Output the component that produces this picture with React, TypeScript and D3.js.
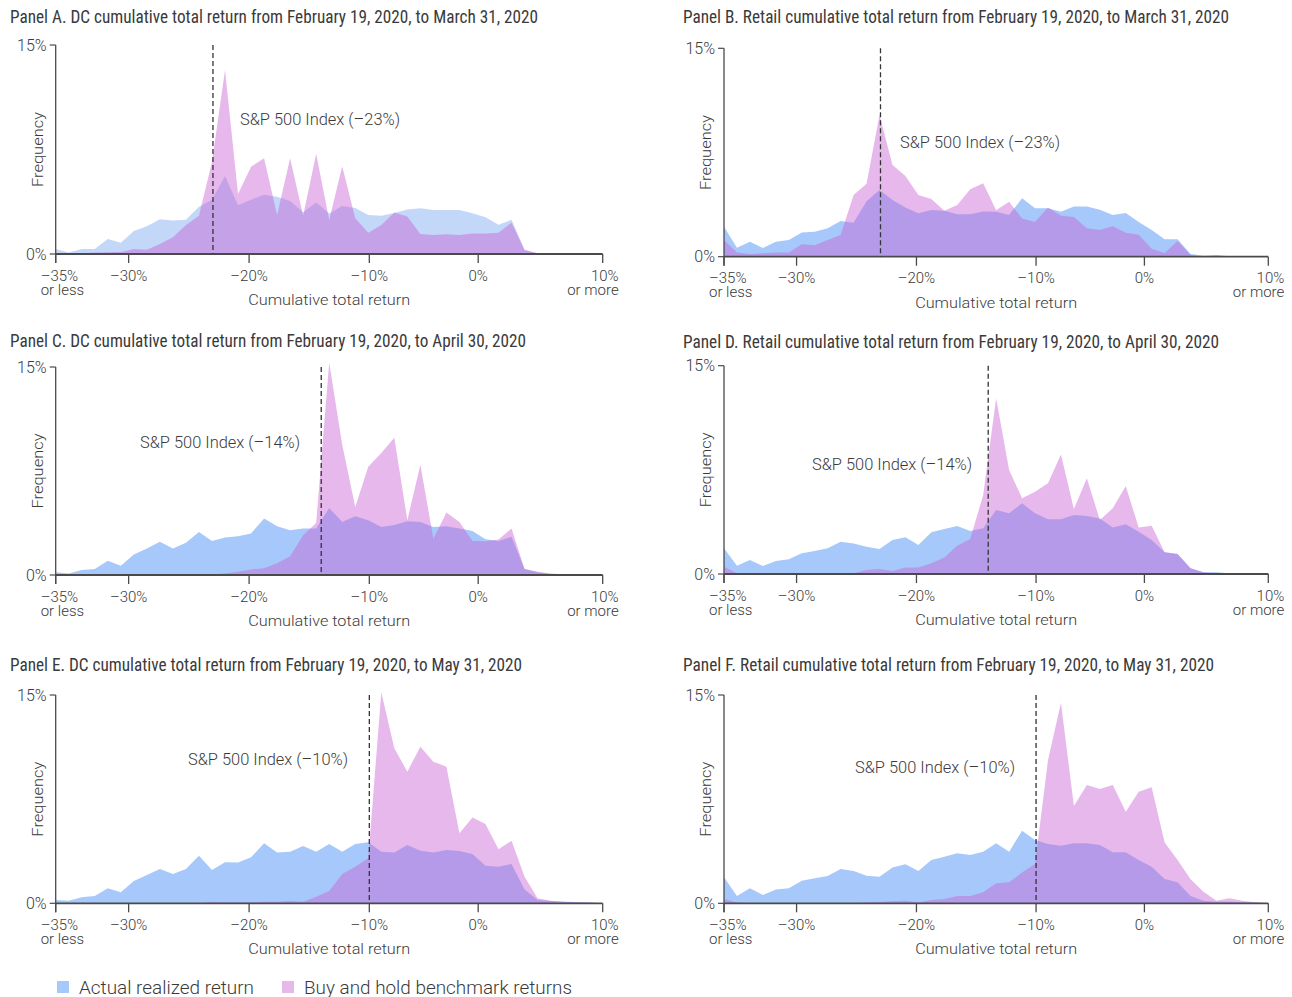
import React from 'react';
import * as d3 from 'd3';

// ---------- data ----------
// 43 histogram bins from "-35% or less" to "10% or more"; values are frequency in %
const blueA = [0.35,0.1,0.35,0.35,1.08,0.8,1.65,2.0,2.5,2.4,2.45,3.4,3.9,5.6,3.5,3.9,4.25,4.1,3.8,3.0,3.7,2.9,3.45,3.3,2.8,2.75,2.95,3.2,3.28,3.16,3.16,3.16,2.92,2.63,2.1,2.45,0.3,0.05,0,0,0,0,0];
const pinkA = [0.02,0.02,0.05,0.1,0.12,0.15,0.35,0.3,0.72,1.2,2.08,2.75,6.6,13.2,4.3,6.27,6.87,2.8,6.87,2.75,7.2,2.44,6.3,2.56,1.53,2.08,2.97,2.7,1.44,1.36,1.41,1.36,1.48,1.48,1.53,2.25,0.29,0.05,0,0,0,0,0];
const blueB = [2.16,0.65,1.08,0.62,1.08,1.2,1.75,1.8,2.04,2.57,2.45,4.0,4.8,4.08,3.55,3.12,3.36,3.3,3.06,3.05,3.25,3.24,3.0,4.2,3.48,3.48,3.24,3.62,3.62,3.38,3.0,3.15,2.5,1.93,1.26,1.26,0.19,0.07,0.12,0.03,0,0,0];
const pinkB = [1.2,0.31,0.19,0.24,0.31,0.31,0.89,0.82,1.2,1.56,4.44,5.25,10.2,6.6,5.8,4.44,4.15,3.3,3.72,4.85,5.28,3.35,3.96,2.75,2.5,3.55,2.95,2.85,2.04,1.92,2.2,1.73,1.58,0.57,0.26,1.13,0.12,0,0,0,0,0,0];
const blueC = [0.19,0.1,0.36,0.43,1.03,0.67,1.48,1.91,2.39,1.91,2.32,3.11,2.46,2.7,2.8,3.0,4.07,3.52,3.23,3.35,3.35,4.83,3.83,4.23,3.95,3.47,3.6,3.88,3.83,3.47,3.52,3.35,3.18,2.58,2.46,2.75,0.43,0.19,0.07,0.02,0,0,0];
const pinkC = [0,0,0,0,0,0,0,0,0,0,0,0,0.03,0.1,0.24,0.4,0.48,0.84,1.36,2.87,3.75,15.3,9.4,4.9,7.8,8.8,9.9,3.95,7.95,2.6,4.5,3.83,2.46,2.44,2.56,3.35,0.43,0.24,0.1,0.05,0,0,0];
const blueD = [1.85,0.6,1.0,0.58,0.94,1.06,1.49,1.66,1.85,2.33,2.2,1.97,1.8,2.45,2.64,2.09,3.0,3.24,3.46,3.1,3.29,4.6,4.37,5.09,4.37,3.94,3.94,4.25,4.18,4.0,3.34,3.58,3.05,2.45,1.56,1.44,0.41,0.12,0.12,0.05,0,0,0];
const pinkD = [0.53,0.05,0,0,0,0,0.02,0.02,0.02,0.02,0.05,0.29,0.36,0.22,0.46,0.46,0.77,1.18,2.04,2.52,5.69,12.65,7.49,5.45,5.93,6.53,8.6,4.68,6.89,3.89,4.73,6.34,3.34,3.48,1.56,1.44,0.41,0.12,0.05,0,0,0,0];
const blueE = [0.24,0.19,0.43,0.53,1.08,0.79,1.61,2.04,2.47,2.11,2.47,3.43,2.4,2.95,2.93,3.31,4.32,3.65,3.72,4.13,3.72,4.27,3.72,4.27,4.39,3.72,3.65,4.2,3.79,3.65,3.84,3.77,3.55,2.71,2.64,2.83,1.0,0.24,0.17,0.12,0.1,0.05,0];
const pinkE = [0,0,0,0,0,0,0,0,0,0,0,0,0.1,0.05,0.05,0.05,0.12,0.12,0.17,0.12,0.48,0.89,2.11,2.64,3.24,15.2,11.16,9.48,11.28,10.2,9.84,5.04,6.17,5.71,3.89,4.51,1.92,0.36,0.19,0.12,0.07,0.05,0];
const blueF = [1.87,0.53,1.08,0.6,1.0,1.08,1.63,1.8,1.97,2.47,2.33,1.99,1.92,2.57,2.81,2.33,3.12,3.36,3.6,3.48,3.72,4.32,3.72,5.23,4.56,4.27,4.15,4.32,4.32,4.2,3.67,3.67,3.12,2.64,1.75,1.51,0.53,0.19,0.12,0.12,0.07,0.05,0];
const pinkF = [0.31,0.05,0,0,0,0,0,0,0,0,0,0.05,0.1,0.14,0.19,0.05,0.24,0.31,0.53,0.53,0.79,1.44,1.51,2.21,2.83,10.3,14.45,7.0,8.52,8.23,8.52,6.6,8.04,8.35,4.37,3.12,1.73,0.84,0.19,0.36,0.19,0.07,0];

const tickReturns = [-35, -30, -20, -10, 0, 10];
const tickBinPos = [0, 5.6, 14.85, 24.08, 32.44, 42];
const tickLine1 = ['–35%', '–30%', '–20%', '–10%', '0%', '10%'];
const tickLine2 = ['or less', '', '', '', '', 'or more'];
const yTickValues = [0, 15];
const yTickLabels = ['0%', '15%'];

const titles = [
  'Panel A. DC cumulative total return from February 19, 2020, to March 31, 2020',
  'Panel B. Retail cumulative total return from February 19, 2020, to March 31, 2020',
  'Panel C. DC cumulative total return from February 19, 2020, to April 30, 2020',
  'Panel D. Retail cumulative total return from February 19, 2020, to April 30, 2020',
  'Panel E. DC cumulative total return from February 19, 2020, to May 31, 2020',
  'Panel F. Retail cumulative total return from February 19, 2020, to May 31, 2020',
];
const spReturns = [-23, -23, -14, -14, -10, -10];
const spLabels = [
  'S&P 500 Index (–23%)', 'S&P 500 Index (–23%)',
  'S&P 500 Index (–14%)', 'S&P 500 Index (–14%)',
  'S&P 500 Index (–10%)', 'S&P 500 Index (–10%)',
];
const legendLabels = ['Actual realized return', 'Buy and hold benchmark returns'];
const blueSeries = [blueA, blueB, blueC, blueD, blueE, blueF];
const pinkSeries = [pinkA, pinkB, pinkC, pinkD, pinkE, pinkF];

// ---------- layout ----------
const layout = [
  { x0: 55.7, x1: 602.7, yTop: 45, yBase: 254, titleW: 528, titleY: 23, lx: 240, ly: 125, blue: '#c3d8f8' },
  { x0: 724, x1: 1268.3, yTop: 48.3, yBase: 256.7, titleW: 546, titleY: 23, lx: 900, ly: 148, blue: '#a7c8fb' },
  { x0: 55.7, x1: 602.7, yTop: 367, yBase: 575, titleW: 516, titleY: 347, lx: 140, ly: 448, blue: '#a7c8fb' },
  { x0: 724, x1: 1268.3, yTop: 365.7, yBase: 574, titleW: 536, titleY: 348, lx: 812, ly: 470, blue: '#a7c8fb' },
  { x0: 55.7, x1: 602.7, yTop: 695, yBase: 903.3, titleW: 512, titleY: 671, lx: 188, ly: 765, blue: '#a7c8fb' },
  { x0: 724, x1: 1268.3, yTop: 695, yBase: 903.3, titleW: 531, titleY: 671, lx: 855, ly: 773, blue: '#a7c8fb' },
];

const FONT = "Roboto, 'Liberation Sans', sans-serif";
const TITLE_FONT = "'Liberation Sans Narrow', 'Roboto Condensed', 'Arial Narrow', Roboto, sans-serif";
const PINK = 'rgb(200,97,213)';
const PINK_OP = 0.45;
const TXT = '#3a3a3a';
const AXIS = '#4a4a4a';

function Panel({ idx }: { idx: number }) {
  const L = layout[idx];
  const x = d3.scaleLinear().domain([0, 42]).range([L.x0, L.x1]);
  const y = d3.scaleLinear().domain([0, 15]).range([L.yBase, L.yTop]);
  const retToBin = d3.scaleLinear().domain(tickReturns).range(tickBinPos);
  const area = d3
    .area<number>()
    .x((_, i) => x(i))
    .y0(y(0))
    .y1((d) => y(d));
  const spX = x(retToBin(spReturns[idx]));
  const titleX = L.x0 < 300 ? 10 : 683;
  const midX = (L.x0 + L.x1) / 2;
  return (
    <g>
      <text x={titleX} y={L.titleY} fontFamily={TITLE_FONT} fontSize={18} fill={TXT}
        textLength={L.titleW} lengthAdjust="spacingAndGlyphs">{titles[idx]}</text>
      <path d={area(blueSeries[idx]) || ''} fill={L.blue} />
      <path d={area(pinkSeries[idx]) || ''} fill={PINK} fillOpacity={PINK_OP} />
      {/* y axis */}
      <line x1={L.x0} x2={L.x0} y1={y(15)} y2={y(0) + 9} stroke={AXIS} strokeWidth={1.3} />
      {yTickValues.map((v, i) => (
        <g key={'yt' + i}>
          <line x1={L.x0 - 6} x2={L.x0} y1={y(v)} y2={y(v)} stroke={AXIS} strokeWidth={1.2} />
          <text x={L.x0 - 9} y={y(v) + 5.5} textAnchor="end" fontFamily={FONT} fontWeight={300}
            fontSize={16} fill={TXT}>{yTickLabels[i]}</text>
        </g>
      ))}
      {/* x axis */}
      <line x1={L.x0} x2={L.x1} y1={y(0)} y2={y(0)} stroke={AXIS} strokeWidth={1.8} />
      {tickReturns.map((t, i) => {
        const tx = x(retToBin(t));
        const first = i === 0;
        const last = i === tickReturns.length - 1;
        const anchor = first ? 'start' : last ? 'end' : 'middle';
        const lx = first ? tx - 15 : last ? tx + 16 : tx;
        return (
          <g key={'xt' + i}>
            <line x1={tx} x2={tx} y1={y(0)} y2={y(0) + 9} stroke={AXIS} strokeWidth={1.3} />
            <text x={lx} y={y(0) + 26.5} textAnchor={anchor} fontFamily={FONT} fontWeight={300}
              fontSize={15} fill={TXT}>{tickLine1[i]}</text>
            {tickLine2[i] && (
              <text x={lx} y={y(0) + 40.5} textAnchor={anchor} fontFamily={FONT} fontWeight={300}
                fontSize={15} fill={TXT}>{tickLine2[i]}</text>
            )}
          </g>
        );
      })}
      <text x={midX} y={y(0) + 51} textAnchor="middle" fontFamily={FONT} fontWeight={300}
        fontSize={15.5} fill={TXT} textLength={162} lengthAdjust="spacingAndGlyphs">Cumulative total return</text>
      <text transform={`translate(${L.x0 - 13},${(y(0) + y(15)) / 2}) rotate(-90)`} textAnchor="middle"
        fontFamily={FONT} fontWeight={300} fontSize={15.5} fill={TXT} textLength={75}
        lengthAdjust="spacingAndGlyphs">Frequency</text>
      {/* S&P line */}
      <line x1={spX} x2={spX} y1={y(15)} y2={y(0)} stroke="#333" strokeWidth={1.3} strokeDasharray="5,3" />
      <text x={L.lx} y={L.ly} fontFamily={FONT} fontWeight={300} fontSize={16} fill={TXT}
        textLength={160} lengthAdjust="spacingAndGlyphs">{spLabels[idx]}</text>
    </g>
  );
}

export default function App() {
  return (
    <svg width={1292} height={997} style={{ position: 'absolute', left: 0, top: 0, background: '#fff' }}>
      <rect x={0} y={0} width={1292} height={997} fill="#fff" />
      {layout.map((_, i) => (
        <Panel key={i} idx={i} />
      ))}
      <g>
        <rect x={57} y={981} width={12} height={12} fill="#a7c8fb" />
        <text x={79} y={994} fontFamily={FONT} fontWeight={300} fontSize={18} fill={TXT}
          textLength={175} lengthAdjust="spacingAndGlyphs">{legendLabels[0]}</text>
        <rect x={282} y={981} width={12} height={12} fill={PINK} fillOpacity={PINK_OP} />
        <text x={304} y={994} fontFamily={FONT} fontWeight={300} fontSize={18} fill={TXT}
          textLength={268} lengthAdjust="spacingAndGlyphs">{legendLabels[1]}</text>
      </g>
    </svg>
  );
}
